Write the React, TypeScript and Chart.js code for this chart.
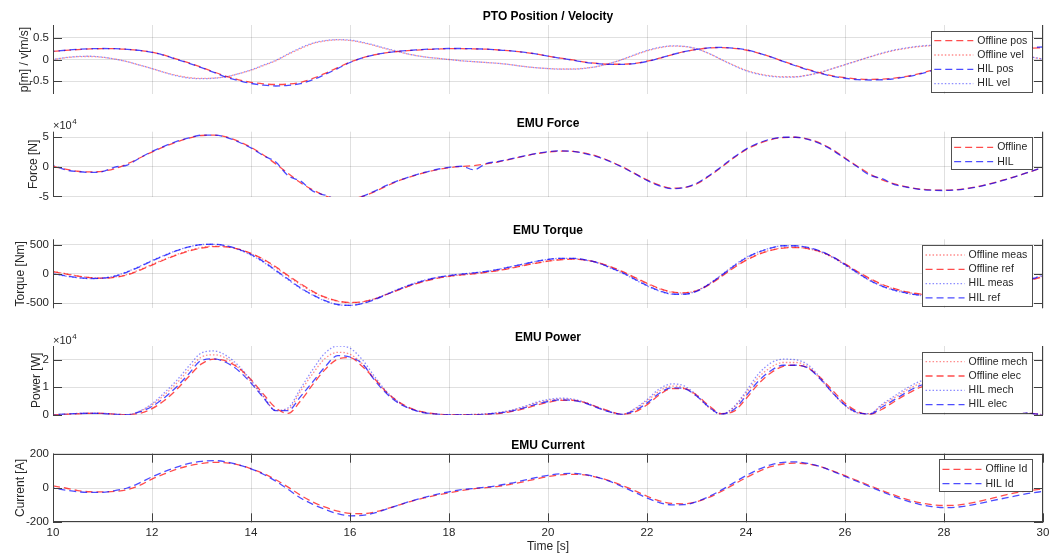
import React, { useEffect, useRef } from 'react';
import { Chart, registerables } from 'chart.js';
Chart.register(...registerables);

const W = 1059;
const H = 555;

// ---------- shared axis data ----------
const time = [
  10, 10.25, 10.5, 10.75, 11, 11.25, 11.5, 11.75, 12, 12.25, 12.5, 12.75,
  13, 13.25, 13.5, 13.75, 14, 14.25, 14.5, 14.75, 15, 15.25, 15.5, 15.75,
  16, 16.25, 16.5, 16.75, 17, 17.25, 17.5, 17.75, 18, 18.25, 18.5, 18.75,
  19, 19.25, 19.5, 19.75, 20, 20.25, 20.5, 20.75, 21, 21.25, 21.5, 21.75,
  22, 22.25, 22.5, 22.75, 23, 23.25, 23.5, 23.75, 24, 24.25, 24.5, 24.75,
  25, 25.25, 25.5, 25.75, 26, 26.25, 26.5, 26.75, 27, 27.25, 27.5, 27.75,
  28, 28.25, 28.5, 28.75, 29, 29.25, 29.5, 29.75, 30,
];
const xTicks = [10, 12, 14, 16, 18, 20, 22, 24, 26, 28, 30];

// ---------- PTO position / velocity ----------
const posTicks = [-0.5, 0, 0.5];
const offlinePos = [
  0.19, 0.21, 0.23, 0.245, 0.25, 0.25, 0.235, 0.21, 0.17, 0.10, 0.01, -0.08,
  -0.18, -0.29, -0.39, -0.47, -0.53, -0.565, -0.58, -0.57, -0.53, -0.44, -0.32, -0.19,
  -0.06, 0.04, 0.11, 0.16, 0.19, 0.21, 0.23, 0.24, 0.25, 0.25, 0.245, 0.24,
  0.22, 0.20, 0.17, 0.13, 0.08, 0.03, -0.01, -0.06, -0.09, -0.11, -0.11, -0.09,
  -0.04, 0.03, 0.11, 0.18, 0.23, 0.265, 0.275, 0.26, 0.22, 0.15, 0.06, -0.04,
  -0.14, -0.23, -0.31, -0.38, -0.42, -0.45, -0.46, -0.455, -0.43, -0.39, -0.33, -0.25,
  -0.17, -0.09, -0.01, 0.07, 0.13, 0.19, 0.23, 0.26, 0.27,
];
const offlineVel = [
  0.00, 0.04, 0.065, 0.07, 0.05, 0.01, -0.05, -0.13, -0.21, -0.30, -0.37, -0.42,
  -0.44, -0.43, -0.40, -0.33, -0.25, -0.14, -0.03, 0.12, 0.25, 0.37, 0.43, 0.455,
  0.44, 0.39, 0.32, 0.24, 0.17, 0.11, 0.06, 0.03, 0.00, -0.03, -0.05, -0.07,
  -0.09, -0.12, -0.16, -0.19, -0.21, -0.22, -0.22, -0.20, -0.16, -0.09, 0.00, 0.10,
  0.20, 0.27, 0.31, 0.30, 0.25, 0.14, 0.00, -0.13, -0.25, -0.33, -0.38, -0.40,
  -0.40, -0.36, -0.30, -0.21, -0.12, -0.03, 0.06, 0.14, 0.21, 0.26, 0.30, 0.32,
  0.33, 0.33, 0.31, 0.28, 0.23, 0.18, 0.12, 0.06, 0.01,
];
const hilPos = [
  0.19, 0.215, 0.235, 0.25, 0.255, 0.25, 0.235, 0.21, 0.165, 0.095, 0.0, -0.09,
  -0.19, -0.30, -0.41, -0.49, -0.555, -0.595, -0.615, -0.60, -0.56, -0.47, -0.345, -0.21,
  -0.07, 0.035, 0.11, 0.16, 0.195, 0.215, 0.235, 0.245, 0.255, 0.255, 0.25, 0.24,
  0.22, 0.20, 0.17, 0.13, 0.08, 0.03, -0.015, -0.065, -0.095, -0.115, -0.115, -0.095,
  -0.045, 0.03, 0.11, 0.18, 0.235, 0.27, 0.28, 0.265, 0.225, 0.15, 0.06, -0.045,
  -0.145, -0.24, -0.32, -0.39, -0.435, -0.465, -0.475, -0.47, -0.445, -0.40, -0.34, -0.26,
  -0.175, -0.09, -0.005, 0.075, 0.14, 0.20, 0.245, 0.275, 0.29,
];
const hilVel = [
  0.00, 0.045, 0.07, 0.075, 0.055, 0.01, -0.05, -0.13, -0.21, -0.30, -0.38, -0.43,
  -0.445, -0.435, -0.40, -0.33, -0.24, -0.13, -0.02, 0.13, 0.27, 0.38, 0.44, 0.46,
  0.45, 0.40, 0.33, 0.25, 0.18, 0.11, 0.06, 0.03, 0.00, -0.03, -0.05, -0.07,
  -0.09, -0.12, -0.16, -0.19, -0.21, -0.225, -0.225, -0.205, -0.16, -0.09, 0.00, 0.11,
  0.21, 0.28, 0.315, 0.305, 0.25, 0.14, 0.00, -0.14, -0.26, -0.34, -0.39, -0.41,
  -0.405, -0.365, -0.30, -0.21, -0.12, -0.03, 0.06, 0.15, 0.22, 0.27, 0.31, 0.33,
  0.34, 0.335, 0.315, 0.285, 0.235, 0.18, 0.12, 0.06, 0.01,
];

// ---------- EMU force (x 10^4 N) ----------
const forceTicks = [-5, 0, 5];
const forceOffline = [
  0.1, -0.4, -0.75, -0.85, -0.75, -0.3, 0.5, 1.5, 2.5, 3.4, 4.2, 4.85,
  5.3, 5.35, 5.05, 4.3, 3.3, 2.0, 0.5, -1.1, -2.7, -3.9, -4.9, -5.35,
  -5.4, -5.0, -4.2, -3.2, -2.3, -1.6, -1.0, -0.5, -0.15, 0.05, 0.2, 0.5,
  0.85, 1.3, 1.75, 2.2, 2.5, 2.65, 2.6, 2.3, 1.75, 0.95, 0.0, -1.1,
  -2.2, -3.1, -3.6, -3.5, -2.9, -1.6, -0.1, 1.5, 2.9, 3.9, 4.6, 4.95,
  5.0, 4.7, 4.0, 2.9, 1.5, 0.1, -1.2, -2.2, -2.9, -3.4, -3.75, -3.9,
  -3.95, -3.85, -3.6, -3.2, -2.7, -2.1, -1.5, -0.8, -0.1,
];
const forceHil = [
  0.3, -0.5, -0.8, -0.95, -0.8, -0.05, 0.3, 1.5, 2.6, 3.5, 4.3, 4.9,
  5.35, 5.35, 5.0, 4.2, 3.2, 1.9, 0.8, -1.5, -2.4, -4.1, -4.8, -5.5,
  -5.45, -5.0, -4.1, -3.1, -2.25, -1.55, -0.95, -0.45, -0.1, 0.1, -0.5, 0.55,
  0.9, 1.35, 1.8, 2.25, 2.55, 2.7, 2.6, 2.25, 1.7, 0.9, -0.05, -1.15,
  -2.3, -3.2, -3.7, -3.5, -2.8, -1.5, 0.0, 1.6, 3.0, 4.0, 4.7, 5.0,
  5.0, 4.65, 3.9, 2.8, 1.4, 0.0, -1.4, -2.0, -3.0, -3.45, -3.8, -3.95,
  -4.0, -3.9, -3.65, -3.25, -2.75, -2.15, -1.5, -0.8, -0.05,
];

// ---------- EMU torque (Nm) ----------
const torqueTicks = [-500, 0, 500];
const torqueOfflineMeas = [
  40, 5, -35, -65, -75, -55, -10, 70, 160, 250, 330, 400,
  450, 475, 465, 420, 345, 240, 105, -45, -185, -315, -410, -470,
  -495, -480, -425, -345, -265, -190, -125, -75, -42, -18, 2, 28,
  60, 100, 145, 185, 220, 245, 252, 235, 192, 120, 32, -70,
  -170, -258, -315, -325, -285, -180, -35, 115, 240, 340, 405, 445,
  452, 428, 372, 280, 158, 28, -92, -190, -262, -315, -350, -368,
  -372, -365, -343, -312, -270, -220, -163, -102, -42,
];
const torqueOfflineRef = [
  35, 0, -40, -65, -75, -60, -20, 60, 150, 240, 320, 390,
  440, 465, 460, 420, 350, 250, 120, -30, -170, -300, -400, -465,
  -490, -480, -430, -350, -270, -195, -130, -80, -45, -20, 0, 25,
  55, 95, 140, 180, 215, 240, 250, 235, 195, 125, 40, -60,
  -160, -250, -310, -325, -290, -190, -50, 100, 230, 330, 400, 440,
  450, 430, 380, 290, 170, 40, -80, -180, -255, -310, -345, -365,
  -370, -365, -345, -315, -275, -225, -170, -110, -50,
];
const torqueHilMeas = [
  5, -40, -68, -82, -74, -35, 38, 128, 228, 318, 400, 462,
  500, 503, 475, 412, 320, 198, 48, -102, -250, -368, -465, -528,
  -540, -505, -432, -342, -253, -175, -110, -62, -28, -3, 17, 42,
  78, 123, 168, 212, 246, 265, 263, 236, 184, 103, 12, -98,
  -207, -295, -347, -348, -295, -172, -20, 140, 278, 375, 442, 480,
  478, 446, 384, 282, 150, 10, -118, -216, -285, -334, -367, -386,
  -390, -378, -352, -316, -270, -214, -153, -88, -24,
];
const torqueHilRef = [
  10, -35, -65, -80, -75, -40, 30, 120, 220, 310, 395, 460,
  500, 505, 480, 420, 330, 210, 60, -90, -240, -360, -460, -525,
  -540, -510, -440, -350, -260, -180, -115, -65, -30, -5, 15, 40,
  75, 120, 165, 210, 245, 265, 265, 240, 190, 110, 20, -90,
  -200, -290, -345, -350, -300, -180, -30, 130, 270, 370, 440, 480,
  480, 450, 390, 290, 160, 20, -110, -210, -280, -330, -365, -385,
  -390, -380, -355, -320, -275, -220, -160, -95, -30,
];

// ---------- EMU power (x 10^4 W) ----------
const powerTicks = [0, 1, 2];
const powerOfflineMech = [
  0.0, 0.02, 0.04, 0.06, 0.05, 0.02, 0.0, 0.12, 0.36, 0.72, 1.15, 1.65,
  2.1, 2.18, 2.05, 1.7, 1.2, 0.65, 0.15, 0.2, 0.85, 1.5, 2.05, 2.27,
  2.2, 1.85, 1.3, 0.78, 0.42, 0.2, 0.08, 0.02, 0.0, 0.0, 0.01, 0.03,
  0.07, 0.15, 0.27, 0.42, 0.52, 0.57, 0.55, 0.44, 0.26, 0.1, 0.01, 0.2,
  0.5, 0.86, 1.04, 0.98, 0.68, 0.26, 0.02, 0.25, 0.78, 1.35, 1.72, 1.9,
  1.9, 1.75, 1.3, 0.78, 0.33, 0.07, 0.04, 0.35, 0.62, 0.9, 1.12, 1.25,
  1.3, 1.26, 1.12, 0.88, 0.6, 0.35, 0.16, 0.05, 0.0,
];
const powerOfflineElec = [
  0.0, 0.01, 0.03, 0.05, 0.05, 0.02, 0.0, 0.05, 0.22, 0.52, 0.92, 1.4,
  1.85, 2.02, 1.95, 1.7, 1.28, 0.75, 0.25, 0.05, 0.5, 1.1, 1.65, 2.02,
  2.08, 1.75, 1.3, 0.8, 0.45, 0.22, 0.09, 0.03, 0.0, 0.0, 0.0, 0.01,
  0.04, 0.11, 0.21, 0.34, 0.45, 0.52, 0.52, 0.44, 0.28, 0.13, 0.02, 0.1,
  0.36, 0.72, 0.95, 0.95, 0.72, 0.33, 0.04, 0.12, 0.58, 1.12, 1.52, 1.76,
  1.8, 1.7, 1.35, 0.88, 0.42, 0.12, 0.01, 0.2, 0.48, 0.75, 0.98, 1.12,
  1.2, 1.2, 1.1, 0.9, 0.63, 0.38, 0.18, 0.06, 0.0,
];
const powerHilMech = [
  0.0, 0.02, 0.05, 0.06, 0.05, 0.02, 0.0, 0.13, 0.4, 0.8, 1.25, 1.78,
  2.25, 2.32, 2.15, 1.78, 1.25, 0.68, 0.15, 0.25, 0.95, 1.65, 2.25, 2.5,
  2.42, 2.0, 1.38, 0.82, 0.44, 0.2, 0.08, 0.02, 0.0, 0.0, 0.01, 0.03,
  0.08, 0.16, 0.29, 0.45, 0.55, 0.6, 0.57, 0.45, 0.27, 0.1, 0.01, 0.22,
  0.55, 0.94, 1.12, 1.05, 0.72, 0.28, 0.02, 0.28, 0.85, 1.48, 1.88, 2.02,
  2.0, 1.82, 1.35, 0.8, 0.34, 0.07, 0.04, 0.38, 0.68, 0.97, 1.2, 1.33,
  1.38, 1.33, 1.18, 0.92, 0.62, 0.36, 0.16, 0.05, 0.0,
];
const powerHilElec = [
  0.0, 0.02, 0.04, 0.05, 0.04, 0.01, 0.0, 0.1, 0.3, 0.62, 1.02, 1.5,
  1.98, 2.03, 1.9, 1.6, 1.15, 0.62, 0.15, 0.15, 0.66, 1.2, 1.75, 2.15,
  2.1, 1.85, 1.25, 0.75, 0.4, 0.19, 0.07, 0.02, 0.0, 0.0, 0.0, 0.02,
  0.06, 0.13, 0.24, 0.38, 0.48, 0.54, 0.52, 0.42, 0.25, 0.1, 0.01, 0.15,
  0.42, 0.78, 0.98, 0.95, 0.68, 0.28, 0.02, 0.18, 0.68, 1.22, 1.6, 1.8,
  1.8, 1.7, 1.3, 0.8, 0.35, 0.08, 0.02, 0.28, 0.55, 0.82, 1.05, 1.18,
  1.25, 1.22, 1.1, 0.88, 0.6, 0.36, 0.17, 0.05, 0.0,
];

// ---------- EMU current (A) ----------
const currentTicks = [-200, 0, 200];
const currentOffline = [
  12, 0, -15, -22, -23, -20, -10, 15, 52, 82, 110, 130,
  143, 150, 147, 135, 112, 85, 48, 5, -42, -82, -112, -135,
  -148, -150, -140, -120, -98, -76, -58, -42, -28, -15, -5, 2,
  10, 22, 36, 52, 66, 76, 80, 76, 62, 42, 15, -15,
  -48, -75, -90, -92, -80, -55, -20, 20, 60, 96, 124, 140,
  145, 140, 125, 100, 72, 43, 14, -15, -42, -66, -85, -97,
  -102, -100, -90, -75, -58, -40, -25, -14, -6,
];
const currentHil = [
  0, -12, -22, -26, -25, -15, 0, 30, 65, 95, 122, 143,
  155, 160, 152, 135, 112, 80, 40, -8, -58, -95, -125, -150,
  -162, -160, -145, -122, -98, -75, -55, -37, -22, -10, -3, 5,
  15, 28, 44, 60, 74, 83, 85, 78, 62, 38, 8, -25,
  -58, -85, -98, -97, -80, -50, -12, 30, 72, 108, 135, 150,
  152, 143, 125, 98, 68, 38, 8, -22, -50, -75, -95, -108,
  -115, -112, -102, -88, -72, -58, -43, -30, -20,
];

// ---------- styling ----------
const FONT = '"Liberation Sans", Arial, Helvetica, sans-serif';
const TEXT = '#262626';
const AXIS = '#404040';
const GRID = 'rgba(38,38,38,0.14)';
const RED_DASH = 'rgba(255,0,0,0.7)';
const BLUE_DASH = 'rgba(0,0,255,0.7)';
const RED_DOT = 'rgba(255,0,0,0.45)';
const BLUE_DOT = 'rgba(0,0,255,0.45)';
const DASH = [7, 4];
const DOT = [1.5, 2];
const TICK_LEN = 9;

type Series = { label: string; data: number[]; color: string; dash: number[]; offset: number };
type Panel = {
  title: string;
  yLabel: string;
  labelCenter: number;
  yMin: number;
  yMax: number;
  yTicks: number[];
  exponent: boolean;
  top: number;
  bottom: number;
  showX: boolean;
  series: Series[];
};

const panels: Panel[] = [
  {
    title: 'PTO Position / Velocity', yLabel: 'p[m] / v[m/s]', labelCenter: 25,
    yMin: -0.8, yMax: 0.8, yTicks: posTicks, exponent: false, top: 25, bottom: 94, showX: false,
    series: [
      { label: 'Offline pos', data: offlinePos, color: RED_DASH, dash: DASH, offset: 0 },
      { label: 'Offline vel', data: offlineVel, color: RED_DOT, dash: DOT, offset: 0 },
      { label: 'HIL pos', data: hilPos, color: BLUE_DASH, dash: DASH, offset: 5.5 },
      { label: 'HIL vel', data: hilVel, color: BLUE_DOT, dash: DOT, offset: 1.5 },
    ],
  },
  {
    title: 'EMU Force', yLabel: 'Force [N]', labelCenter: 33.5,
    yMin: -5.1, yMax: 5.94, yTicks: forceTicks, exponent: true, top: 131.7, bottom: 197, showX: false,
    series: [
      { label: 'Offline', data: forceOffline, color: RED_DASH, dash: DASH, offset: 0 },
      { label: 'HIL', data: forceHil, color: BLUE_DASH, dash: DASH, offset: 5.5 },
    ],
  },
  {
    title: 'EMU Torque', yLabel: 'Torque [Nm]', labelCenter: 20.7,
    yMin: -590, yMax: 590, yTicks: torqueTicks, exponent: false, top: 239.3, bottom: 308.3, showX: false,
    series: [
      { label: 'Offline meas', data: torqueOfflineMeas, color: RED_DOT, dash: DOT, offset: 0 },
      { label: 'Offline ref', data: torqueOfflineRef, color: RED_DASH, dash: DASH, offset: 0 },
      { label: 'HIL meas', data: torqueHilMeas, color: BLUE_DOT, dash: DOT, offset: 1.5 },
      { label: 'HIL ref', data: torqueHilRef, color: BLUE_DASH, dash: DASH, offset: 5.5 },
    ],
  },
  {
    title: 'EMU Power', yLabel: 'Power [W]', labelCenter: 36.7,
    yMin: 0, yMax: 2.5, yTicks: powerTicks, exponent: true, top: 346, bottom: 414.7, showX: false,
    series: [
      { label: 'Offline mech', data: powerOfflineMech, color: RED_DOT, dash: DOT, offset: 0 },
      { label: 'Offline elec', data: powerOfflineElec, color: RED_DASH, dash: DASH, offset: 0 },
      { label: 'HIL mech', data: powerHilMech, color: BLUE_DOT, dash: DOT, offset: 1.5 },
      { label: 'HIL elec', data: powerHilElec, color: BLUE_DASH, dash: DASH, offset: 5.5 },
    ],
  },
  {
    title: 'EMU Current', yLabel: 'Current [A]', labelCenter: 20.7,
    yMin: -200, yMax: 200, yTicks: currentTicks, exponent: false, top: 453.7, bottom: 522.3, showX: true,
    series: [
      { label: 'Offline Id', data: currentOffline, color: RED_DASH, dash: DASH, offset: 0 },
      { label: 'HIL Id', data: currentHil, color: BLUE_DASH, dash: DASH, offset: 5.5 },
    ],
  },
];

function decorPlugin(panel: Panel) {
  return {
    id: 'decor',
    afterDraw(chart: any) {
      const { ctx, chartArea: a, scales } = chart;
      const ys = scales.y;
      const xs = scales.x;
      ctx.save();
      ctx.setLineDash([]);
      ctx.strokeStyle = AXIS;
      ctx.lineWidth = 1;
      ctx.beginPath();
      const L = Math.round(a.left) + 0.5;
      const R = Math.round(a.right) - 0.5;
      const T = Math.round(a.top) + 0.5;
      const B = Math.round(a.bottom) - 0.5;
      ctx.moveTo(L, a.top); ctx.lineTo(L, a.bottom);
      ctx.moveTo(R, a.top); ctx.lineTo(R, a.bottom);
      if (panel.showX) {
        ctx.moveTo(a.left, T); ctx.lineTo(a.right, T);
        ctx.moveTo(a.left, B); ctx.lineTo(a.right, B);
        for (const t of xs.ticks) {
          const px = Math.round(xs.getPixelForValue(t.value)) + 0.5;
          ctx.moveTo(px, a.top); ctx.lineTo(px, a.top + TICK_LEN);
          ctx.moveTo(px, a.bottom); ctx.lineTo(px, a.bottom - TICK_LEN);
        }
      }
      for (const t of ys.ticks) {
        const py = Math.round(ys.getPixelForValue(t.value)) + 0.5;
        ctx.moveTo(a.left, py); ctx.lineTo(a.left + TICK_LEN, py);
        ctx.moveTo(a.right, py); ctx.lineTo(a.right - TICK_LEN, py);
      }
      ctx.stroke();

      // title
      ctx.fillStyle = '#000';
      ctx.font = `bold 12px ${FONT}`;
      ctx.textAlign = 'center';
      ctx.textBaseline = 'middle';
      ctx.fillText(panel.title, (a.left + a.right) / 2, a.top - 8.5);

      // exponent label
      if (panel.exponent) {
        ctx.fillStyle = TEXT;
        ctx.textAlign = 'left';
        ctx.textBaseline = 'alphabetic';
        ctx.font = `11px ${FONT}`;
        const base = '\u00d710';
        ctx.fillText(base, a.left, a.top - 2.5);
        const w = ctx.measureText(base).width;
        ctx.font = `8px ${FONT}`;
        ctx.fillText('4', a.left + w + 0.5, a.top - 7.5);
      }

      // legend
      ctx.font = `10.5px ${FONT}`;
      const maxW = Math.max(...panel.series.map((s) => ctx.measureText(s.label).width));
      const boxRight = a.right - 10.7;
      const boxW = 3.3 + 39 + 4 + maxW + 5;
      const boxLeft = boxRight - boxW;
      const rowH = 14.3;
      const boxTop = a.top + 5.7;
      const boxH = panel.series.length * rowH + 3.5;
      ctx.fillStyle = '#fff';
      ctx.fillRect(boxLeft, boxTop, boxW, boxH);
      ctx.strokeStyle = 'rgba(38,38,38,0.8)';
      ctx.lineWidth = 1;
      ctx.strokeRect(Math.round(boxLeft) + 0.5, Math.round(boxTop) + 0.5, Math.round(boxW), Math.round(boxH));
      panel.series.forEach((s, i) => {
        const y = boxTop + 10 + i * rowH;
        ctx.strokeStyle = s.color;
        ctx.lineWidth = 1.3;
        ctx.setLineDash(s.dash);
        ctx.lineDashOffset = 0;
        ctx.beginPath();
        ctx.moveTo(boxLeft + 3.3, y);
        ctx.lineTo(boxLeft + 42.3, y);
        ctx.stroke();
        ctx.setLineDash([]);
        ctx.fillStyle = TEXT;
        ctx.textAlign = 'left';
        ctx.textBaseline = 'middle';
        ctx.fillText(s.label, boxLeft + 46.3, y);
      });
      ctx.restore();
    },
  };
}

function makeConfig(panel: Panel): any {
  const n = panel.series.length;
  const xAxisH = panel.showX ? H - panel.bottom : 0;
  return {
    type: 'line',
    data: {
      datasets: panel.series.map((s, i) => ({
        label: s.label,
        data: time.map((t, k) => ({ x: t, y: s.data[k] })),
        borderColor: s.color,
        borderDash: s.dash,
        borderDashOffset: s.offset,
        borderWidth: 1.3,
        pointRadius: 0,
        fill: false,
        cubicInterpolationMode: 'monotone',
        order: n - i,
      })),
    },
    options: {
      responsive: false,
      animation: false,
      events: [],
      layout: {
        padding: { left: 0, right: W - 1043, top: panel.top, bottom: H - panel.bottom - xAxisH },
      },
      plugins: { legend: { display: false }, tooltip: { enabled: false }, title: { display: false } },
      scales: {
        x: {
          type: 'linear',
          min: 10,
          max: 30,
          afterBuildTicks: (s: any) => { s.ticks = xTicks.map((v) => ({ value: v })); },
          afterFit: (s: any) => { s.height = xAxisH; },
          grid: { color: GRID, drawTicks: false, lineWidth: 1 },
          border: { display: false },
          ticks: {
            display: panel.showX,
            font: { family: FONT, size: 11.5 },
            color: TEXT,
            padding: 4,
            maxRotation: 0,
            autoSkip: false,
            callback: (v: any) => String(v),
          },
          title: {
            display: panel.showX,
            text: 'Time [s]',
            font: { family: FONT, size: 12 },
            color: TEXT,
            padding: { top: 0, bottom: 1 },
          },
        },
        y: {
          type: 'linear',
          min: panel.yMin,
          max: panel.yMax,
          afterBuildTicks: (s: any) => { s.ticks = panel.yTicks.map((v) => ({ value: v })); },
          afterFit: (s: any) => { s.width = 53; },
          grid: { color: GRID, drawTicks: false, lineWidth: 1 },
          border: { display: false },
          ticks: {
            font: { family: FONT, size: 11.5 },
            color: TEXT,
            padding: 4,
            callback: (v: any) => String(v),
          },
          title: {
            display: true,
            text: panel.yLabel,
            font: { family: FONT, size: 12 },
            color: TEXT,
            padding: { top: panel.labelCenter - 7.2, bottom: 0 },
          },
        },
      },
    },
    plugins: [decorPlugin(panel)],
  };
}

function PanelChart({ panel }: { panel: Panel }) {
  const ref = useRef<HTMLCanvasElement>(null);
  useEffect(() => {
    const chart = new Chart(ref.current as HTMLCanvasElement, makeConfig(panel));
    return () => chart.destroy();
  }, [panel]);
  return (
    <canvas
      ref={ref}
      width={W}
      height={H}
      style={{ position: 'absolute', left: 0, top: 0, width: W, height: H }}
    />
  );
}

export default function App() {
  return (
    <div style={{ position: 'absolute', left: 0, top: 0, width: W, height: H, background: '#fff', overflow: 'hidden' }}>
      {panels.map((p) => (
        <PanelChart key={p.title} panel={p} />
      ))}
    </div>
  );
}
